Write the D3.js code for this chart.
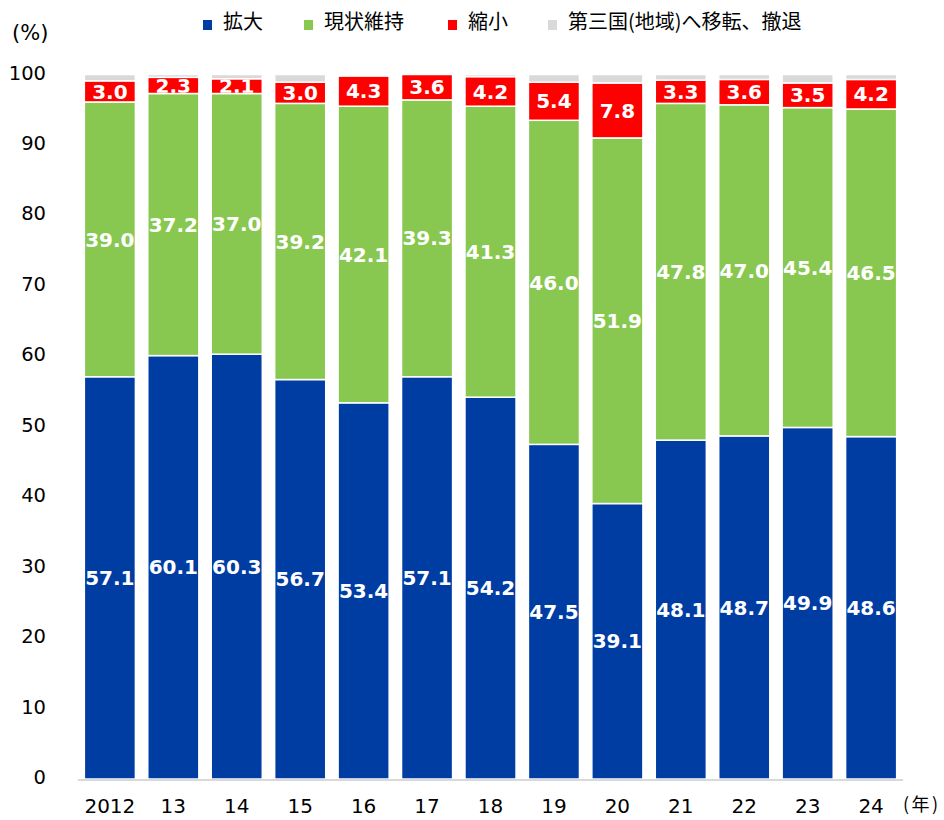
<!DOCTYPE html>
<html><head><meta charset="utf-8">
<script src="https://cdn.jsdelivr.net/npm/d3@7"></script>
<style>body{margin:0;background:#fff}svg{display:block}</style>
</head><body>
<svg id="chart" width="944" height="820"></svg>
<script>
const years = ["2012","13","14","15","16","17","18","19","20","21","22","23","24"];
const seriesNames = ["拡大","現状維持","縮小","第三国(地域)へ移転、撤退"];
const expand   = [57.1,60.1,60.3,56.7,53.4,57.1,54.2,47.5,39.1,48.1,48.7,49.9,48.6];
const maintain = [39.0,37.2,37.0,39.2,42.1,39.3,41.3,46.0,51.9,47.8,47.0,45.4,46.5];
const shrink   = [3.0,2.3,2.1,3.0,4.3,3.6,4.2,5.4,7.8,3.3,3.6,3.5,4.2];
const relocate = [0.9,0.4,0.6,1.1,0.2,0.0,0.3,1.1,1.2,0.8,0.7,1.2,0.7];
const yTicks = [0,10,20,30,40,50,60,70,80,90,100];
const colors = ["#003DA3","#88C850","#FF0000","#D9D9D9"];

const svg = d3.select("#chart");
const x = d3.scaleBand().domain(years).range([78,903]).paddingInner(0.195).paddingOuter(0.1);
const y = d3.scaleLinear().domain([0,100]).range([779,74.5]);

const table = years.map((yr,i)=>({year:yr, s0:expand[i], s1:maintain[i], s2:shrink[i], s3:relocate[i]}));
const stack = d3.stack().keys(["s0","s1","s2","s3"]);
const layers = stack(table);

// y tick labels
svg.append("g").selectAll("text").data(yTicks).join("text")
  .attr("x",46).attr("y",d=>y(d)-2).attr("dy","0.36em").attr("text-anchor","end")
  .attr("font-family","DejaVu Sans, Verdana, sans-serif").attr("font-size",19.5).attr("fill","#000")
  .text(d=>d);
svg.append("text").attr("x",12).attr("y",32).attr("dy","0.36em")
  .attr("font-family","DejaVu Sans, sans-serif").attr("font-size",21).text("(%)");

const defs = svg.append("defs");
const gBars = svg.append("g");
const gLabels = svg.append("g");
layers.forEach((layer,li)=>{
  layer.forEach((d,i)=>{
    const v = d[1]-d[0];
    if (v<=0) return;
    const rx = x(d.data.year), ry = y(d[1]), rh = y(d[0])-y(d[1]);
    gBars.append("rect").attr("x",rx).attr("y",ry).attr("width",x.bandwidth()).attr("height",rh)
      .attr("fill",colors[li]).attr("stroke","#fff").attr("stroke-width",1.5);
    if (li<3){
      const id = "clip"+li+"_"+i;
      defs.append("clipPath").attr("id",id).append("rect")
        .attr("x",rx).attr("y",ry+0.75).attr("width",x.bandwidth()).attr("height",Math.max(0,rh-1.5));
      gLabels.append("text").attr("clip-path","url(#"+id+")")
        .attr("x",rx+x.bandwidth()/2).attr("y",(y(d[0])+y(d[1]))/2).attr("dy","0.36em")
        .attr("text-anchor","middle").attr("font-family","DejaVu Sans, Verdana, sans-serif")
        .attr("font-weight","bold").attr("font-size",20).attr("fill","#fff")
        .text(v.toFixed(1));
    }
  });
});

// x axis line
svg.append("line").attr("x1",78).attr("x2",903).attr("y1",780).attr("y2",780)
  .attr("stroke","#D9D9D9").attr("stroke-width",2);
// x labels
svg.append("g").selectAll("text").data(years).join("text")
  .attr("x",d=>x(d)+x.bandwidth()/2).attr("y",806).attr("dy","0.36em").attr("text-anchor","middle")
  .attr("font-family","DejaVu Sans, Verdana, sans-serif").attr("font-size",20).text(d=>d);
svg.append("text").attr("x",903).attr("y",805).attr("dy","0.36em")
  .attr("letter-spacing",2.5)
  .attr("font-family","Noto Sans CJK JP, sans-serif").attr("font-size",18).text("(年)");

// legend
const legendX = [203,304,448,548];
const lg = svg.append("g");
seriesNames.forEach((n,i)=>{
  lg.append("rect").attr("x",legendX[i]).attr("y",20).attr("width",9).attr("height",10).attr("fill",colors[i]);
  lg.append("text").attr("x",legendX[i]+20).attr("y",22).attr("dy","0.36em")
    .attr("font-family","Noto Sans CJK JP, sans-serif").attr("font-size",20).attr("fill","#000").text(n);
});
</script>
</body></html>
